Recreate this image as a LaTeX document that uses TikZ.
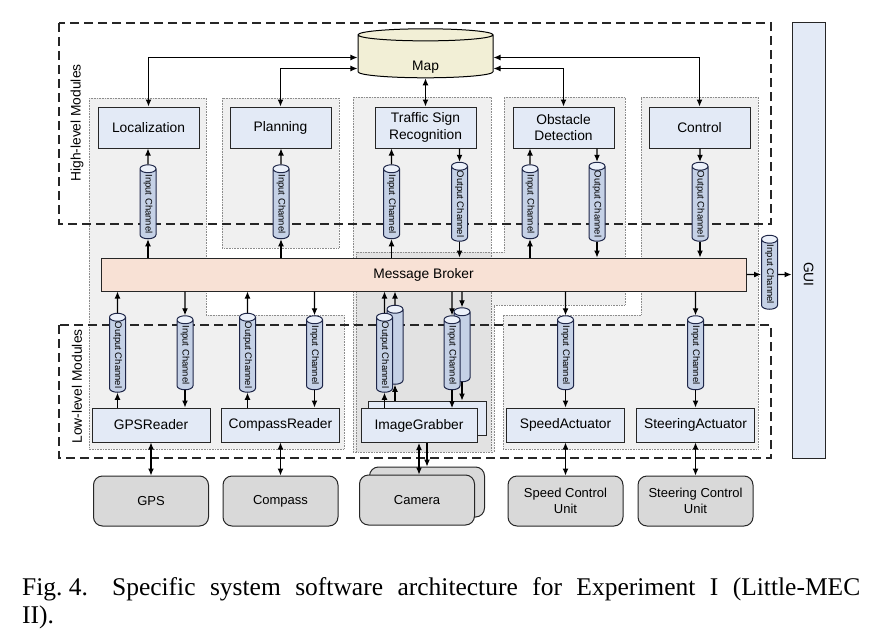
\documentclass[tikz,border=0pt]{standalone}
\usepackage{fontspec}
\setmainfont{Liberation Serif}
\setsansfont{Liberation Sans}
\usepackage{tikz}
\usetikzlibrary{arrows.meta,positioning,shapes.geometric,backgrounds}
\pgfdeclarelayer{bg}
\pgfsetlayers{bg,main}

\definecolor{modblue}{RGB}{227,234,246}
\definecolor{chanblue}{RGB}{197,209,230}
\definecolor{chantop}{RGB}{236,241,250}
\definecolor{chanline}{RGB}{30,38,72}
\definecolor{brokerpeach}{RGB}{248,225,213}
\definecolor{mapcream}{RGB}{242,239,214}
\definecolor{hwgray}{RGB}{217,217,217}

\tikzset{
  module/.style={draw=black!85, line width=1pt, fill=modblue, minimum width=101pt, minimum height=41pt,
    align=center, inner sep=1pt, font=\sffamily\fontsize{13.8}{16.5}\selectfont},
  reader/.style={module, minimum width=118pt, minimum height=34pt},
  hw/.style={draw=black!85, line width=1pt, fill=hwgray, rounded corners=9pt, minimum width=115pt,
    minimum height=50pt, align=center, font=\sffamily\fontsize{13}{16.5}\selectfont},
  chan/.style={cylinder, shape border rotate=180, rotate=-90, draw=chanline, line width=1pt,
    cylinder uses custom fill, cylinder body fill=chanblue, cylinder end fill=chantop,
    minimum width=16pt, minimum height=74pt, aspect=0.9, inner sep=0pt,
    font=\sffamily\fontsize{9.5}{10}\selectfont},
  flow/.style={-{Latex[length=7pt,width=6pt]}, line width=1.1pt},
  biflow/.style={{Latex[length=7pt,width=6pt]}-{Latex[length=7pt,width=6pt]}, line width=1.1pt},
  region/.style={draw=black!45, densely dotted, line width=0.6pt, fill=black, fill opacity=0.06},
  layerbox/.style={draw=black!85, line width=1.3pt, dash pattern=on 9pt off 5pt},
}

\begin{document}
\begin{tikzpicture}[x=1pt,y=-1pt]
    \useasboundingbox (0,0) rectangle (878,634);

    % shared map
    \node[cylinder, shape border rotate=90, draw=black, line width=1pt, fill=mapcream, minimum width=135pt,
      minimum height=49pt, aspect=0.36, font=\sffamily\fontsize{13.8}{16.5}\selectfont,
      label={[font=\sffamily\fontsize{13.8}{16.5}\selectfont, yshift=-10pt]center:Map}] (map) at (425.5,57.5) {\phantom{Map}};

    % high-level modules
    \node[module] (loc) at (148.5,127.5) {Localization};
    \node[module] (plan) at (280.5,127.5) {Planning};
    \node[module] (tsr) at (425.5,127.5) {Traffic Sign\\Recognition};
    \node[module] (obs) at (563.5,127.5) {Obstacle\\Detection};
    \node[module] (ctrl) at (699.5,127.5) {Control};

    \node[chan] (chLoc) at (148,204) {Input Channel};
    \node[chan] (chPlan) at (281,204) {Input Channel};
    \node[chan] (chTsrIn) at (391.5,204) {Input Channel};
    \node[chan] (chTsrOut) at (459.5,204) {Output Channel};
    \node[chan] (chObsIn) at (530,204) {Input Channel};
    \node[chan] (chObsOut) at (597,204) {Output Channel};
    \node[chan] (chCtrl) at (700,204) {Output Channel};

    % broker and GUI
    \node[draw=black!85, line width=1pt, fill=brokerpeach, minimum width=645pt, minimum height=33pt,
      font=\sffamily\fontsize{13.8}{16.5}\selectfont] (brk) at (423.5,274.5) {Message Broker};
    \node[draw=black!85, line width=1pt, fill=modblue, minimum width=33pt, minimum height=435pt] (gui) at (808.5,240.5) {};
    \node[rotate=-90, font=\sffamily\fontsize{13.8}{16.5}\selectfont] (guiTxt) at (gui |- brk) {GUI};
    \node[chan] (chGui) at (769.5,274.5) {Input Channel};

    % low-level modules
    \node[chan] (chGpsOut) at (117.5,355) {Output Channel};
    \node[chan] (chGpsIn) at (185,355) {Input Channel};
    \node[chan] (chCmpOut) at (247.5,355) {Output Channel};
    \node[chan] (chCmpIn) at (314.5,355) {Input Channel};
    \node[chan] (chImgOutB) at (395,347) {\phantom{Output Channel}};
    \node[chan] (chImgOut) at (384.5,355) {Output Channel};
    \node[chan] (chImgInB) at (462,347) {\phantom{Input Channel}};
    \node[chan] (chImgIn) at (452,355) {Input Channel};
    \node[chan] (chSpdIn) at (565.5,355) {Input Channel};
    \node[chan] (chStrIn) at (695.5,355) {Input Channel};

    \node[reader] (gpsR) at (151,425) {GPSReader};
    \node[reader] (cmpR) at (280.5,425) {CompassReader};
    \node[reader] (imgRB) at (427.5,418) {};
    \node[reader, minimum width=116pt] (imgR) at (419,425.5) {ImageGrabber};
    \node[reader] (spdR) at (565.5,425) {SpeedActuator};
    \node[reader] (strR) at (695.5,425) {SteeringActuator};

    % hardware
    \node[hw, below=33pt of gpsR] (gps) {GPS};
    \node[hw, below=33pt of cmpR] (compass) {Compass};
    \node[hw] (camB) at (427,492) {};
    \node[hw] (cam) at (417,500) {Camera};
    \node[hw, below=33pt of spdR] (speed) {Speed Control\\Unit};
    \node[hw, below=33pt of strR] (steer) {Steering Control\\Unit};

    \node[rotate=90, font=\sffamily\fontsize{13.8}{16.5}\selectfont] (highLbl) at (77,123) {High-level Modules};
    \node[rotate=90, font=\sffamily\fontsize{13.8}{16.5}\selectfont] (lowLbl) at (77,386.5) {Low-level Modules};

    % map access
    \draw[biflow] (loc.north) |- (map.west);
    \draw[biflow] (plan.north) |- ([yshift=-11pt]map.west);
    \draw[biflow] (map) -- (tsr);
    \draw[biflow] (obs.north) |- ([yshift=-11pt]map.east);
    \draw[biflow] (ctrl.north) |- (map.east);

    % high-level channels
    \draw[flow] (brk.north -| chLoc) -- (chLoc);
    \draw[flow] (chLoc) -- (chLoc |- loc.south);
    \draw[flow] (brk.north -| chPlan) -- (chPlan);
    \draw[flow] (chPlan) -- (chPlan |- plan.south);
    \draw[flow] (brk.north -| chTsrIn) -- (chTsrIn);
    \draw[flow] (chTsrIn) -- (chTsrIn |- tsr.south);
    \draw[flow] (chTsrOut |- tsr.south) -- (chTsrOut);
    \draw[flow] (chTsrOut) -- (brk.north -| chTsrOut);
    \draw[flow] (brk.north -| chObsIn) -- (chObsIn);
    \draw[flow] (chObsIn) -- (chObsIn |- obs.south);
    \draw[flow] (chObsOut |- obs.south) -- (chObsOut);
    \draw[flow] (chObsOut) -- (brk.north -| chObsOut);
    \draw[flow] (chCtrl |- ctrl.south) -- (chCtrl);
    \draw[flow] (chCtrl) -- (brk.north -| chCtrl);
    \draw[flow] (brk) -- (chGui);
    \draw[flow] (chGui) -- (chGui -| gui.west);

    % low-level channels
    \draw[flow] (gpsR.north -| chGpsOut) -- (chGpsOut);
    \draw[flow] (chGpsOut) -- (brk.south -| chGpsOut);
    \draw[flow] (brk.south -| chGpsIn) -- (chGpsIn);
    \draw[flow] (chGpsIn) -- (chGpsIn |- gpsR.north);
    \draw[flow] (cmpR.north -| chCmpOut) -- (chCmpOut);
    \draw[flow] (chCmpOut) -- (brk.south -| chCmpOut);
    \draw[flow] (brk.south -| chCmpIn) -- (chCmpIn);
    \draw[flow] (chCmpIn) -- (chCmpIn |- cmpR.north);
    \draw[flow] (imgRB.north -| chImgOutB) -- (chImgOutB);
    \draw[flow] (chImgOutB) -- (brk.south -| chImgOutB);
    \draw[flow] (imgR.north -| chImgOut) -- (chImgOut);
    \draw[flow] (chImgOut) -- (brk.south -| chImgOut);
    \draw[flow] (brk.south -| chImgInB) -- (chImgInB);
    \draw[flow] (chImgInB) -- (chImgInB |- imgRB.north);
    \draw[flow] (brk.south -| chImgIn) -- (chImgIn);
    \draw[flow] (chImgIn) -- (chImgIn |- imgR.north);
    \draw[flow] (brk.south -| chSpdIn) -- (chSpdIn);
    \draw[flow] (chSpdIn) -- (chSpdIn |- spdR.north);
    \draw[flow] (brk.south -| chStrIn) -- (chStrIn);
    \draw[flow] (chStrIn) -- (chStrIn |- strR.north);

    % devices
    \draw[biflow] (gpsR) -- (gpsR |- gps.north);
    \draw[biflow] (cmpR) -- (cmpR |- compass.north);
    \draw[biflow] (imgR) -- (imgR |- cam.north);
    \draw[flow] (imgR.south -| camB) -- (camB);
    \draw[biflow] (spdR) -- (spdR |- speed.north);
    \draw[biflow] (strR) -- (strR |- steer.north);

    \begin{pgfonlayer}{bg}
      \draw[region] (89,98) -- (206,98) -- (206,315) -- (344,315) -- (344,449) -- (89,449) -- cycle;
      \draw[region] (222,98) rectangle (339,248);
      \draw[region] (353,97) rectangle (491,452);
      \draw[region] (504,97) -- (625,97) -- (625,305) -- (494,305) -- (494,452) -- (356,452) -- (356,252) -- (504,252) -- cycle;
      \draw[region] (641,97) -- (758,97) -- (758,449) -- (503,449) -- (503,315) -- (641,315) -- cycle;
      \draw[layerbox] (59,23) rectangle (771,224);
      \draw[layerbox] (59,325) rectangle (771,458);
    \end{pgfonlayer}

    % caption
    \node[anchor=base west, inner sep=0pt, font=\fontsize{25.5}{28}\selectfont] (capA) at (22,595)
      {\makebox[838pt][s]{\mbox{Fig.\ 4.}\hspace{24pt}Specific system software architecture for Experiment I (Little-MEC}};
    \node[anchor=base west, inner sep=0pt, font=\fontsize{25.5}{28}\selectfont] (capB) at (22,623) {II).};
  \end{tikzpicture}
\end{document}
